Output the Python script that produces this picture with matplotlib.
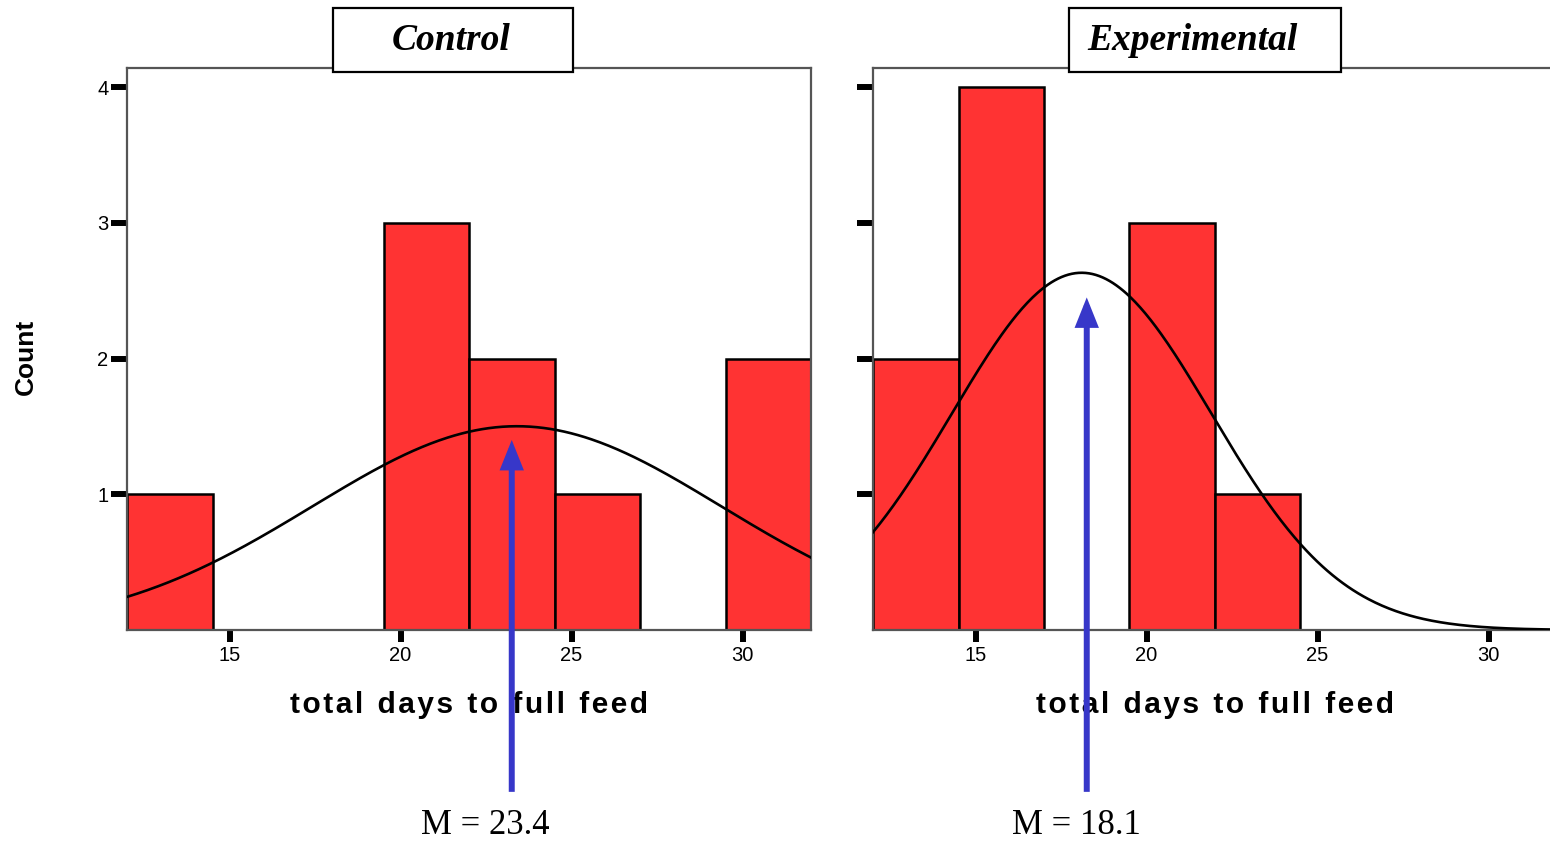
import numpy as np
import matplotlib
matplotlib.use("Agg")
import matplotlib.pyplot as plt
from matplotlib.patches import Rectangle

# datos
bin_edges = [12.0, 14.5, 17.0, 19.5, 22.0, 24.5, 27.0, 29.5, 32.0]
control_counts = [1, 0, 0, 3, 2, 1, 0, 2]
experimental_counts = [2, 4, 0, 3, 1, 0, 0, 0]

control_mean, control_sd = 23.4, 5.98
exp_mean, exp_sd = 18.1, 3.79

# posicion de las flechas (x) y de su punta (count)
arrow_x = [23.25, 18.25]
arrow_tip = [1.40, 2.45]

panel_titles = ["Control", "Experimental"]
mean_labels = ["M = 23.4", "M = 18.1"]
x_label = "total days to full feed"
x_ticks = [15, 20, 25, 30]
y_ticks = [1, 2, 3, 4]

BAR_RED = "#ff3333"
ARROW_BLUE = "#3737c9"
SPINE = "#555555"


def normal_curve(x, mean, sd, n, width):
    return n * width / (sd * np.sqrt(2 * np.pi)) * np.exp(-0.5 * ((x - mean) / sd) ** 2)


def espaciar(texto):
    # espacio fino entre letras, como el texto espaciado de SPSS
    return " \u2009".join("\u200a".join(pal) for pal in texto.split(" "))


def dibujar_panel(ax, counts, mean, sd, show_ylabels):
    edges = np.array(bin_edges)
    widths = np.diff(edges)
    ax.bar(edges[:-1], counts, width=widths, align="edge", color=BAR_RED,
           edgecolor="black", linewidth=1.8, zorder=2)

    xs = np.linspace(edges[0], edges[-1], 400)
    ax.plot(xs, normal_curve(xs, mean, sd, sum(counts), widths[0]),
            color="black", lw=1.9, zorder=3)

    ax.set_xlim(edges[0], edges[-1])
    ax.set_ylim(0, 4.14)
    ax.set_xticks(x_ticks)
    ax.set_yticks(y_ticks)
    if not show_ylabels:
        ax.set_yticklabels([])
    ax.tick_params(axis="y", length=11.5, width=4.3, pad=2, labelsize=14.5)
    ax.tick_params(axis="x", length=8.5, width=4.3, pad=3, labelsize=14.5)
    for lbl in ax.get_xticklabels() + ax.get_yticklabels():
        lbl.set_family("Liberation Sans")
    for s in ax.spines.values():
        s.set_color(SPINE)
        s.set_linewidth(1.6)
    ax.set_xlabel(espaciar(x_label), fontsize=21.5, fontweight="bold",
                  family=["Liberation Sans", "DejaVu Sans"], labelpad=19)


def main():
    fig = plt.figure(figsize=(15.5, 8.44), dpi=100)
    W, H = 1550.0, 844.0

    ax1 = fig.add_axes([127 / W, (H - 630) / H, 684 / W, 562 / H])
    ax2 = fig.add_axes([873 / W, (H - 630) / H, 684 / W, 562 / H])

    dibujar_panel(ax1, control_counts, control_mean, control_sd, True)
    dibujar_panel(ax2, experimental_counts, exp_mean, exp_sd, False)

    # cajas de titulo
    cajas = [(333, 8, 240, 64, 451), (1069, 8, 272, 64, 1192)]
    for (x0, y0, w, h, tx), titulo in zip(cajas, panel_titles):
        rect = Rectangle((x0 / W, (H - y0 - h) / H), w / W, h / H,
                         transform=fig.transFigure, facecolor="white",
                         edgecolor="black", linewidth=1.6, zorder=10)
        fig.add_artist(rect)
        fig.text(tx / W, (H - 41) / H, titulo, ha="center", va="center",
                 family="Liberation Serif", style="italic", fontweight="bold",
                 fontsize=27, zorder=11)

    # flechas de la media
    for ax, x, tip, lab, lx in zip([ax1, ax2], arrow_x, arrow_tip, mean_labels, [485, 1076]):
        ax.annotate("", xy=(x, tip), xycoords="data",
                    xytext=(x, -0.288), textcoords=ax.get_xaxis_transform(),
                    arrowprops=dict(arrowstyle="-|>,head_width=0.4,head_length=1.0",
                                    color=ARROW_BLUE, lw=4.3, mutation_scale=14,
                                    shrinkA=0, shrinkB=0, capstyle="butt",
                                    joinstyle="miter"),
                    annotation_clip=False, zorder=5)
        fig.text(lx / W, (H - 826) / H, lab, ha="center", va="center",
                 family="Liberation Serif", fontsize=25)

    fig.text(26 / W, (H - 357) / H, "Count", rotation=90, ha="center", va="center",
             family="Liberation Sans", fontweight="bold", fontsize=19)

    fig.savefig("out.png", dpi=100)


if __name__ == "__main__":
    main()
